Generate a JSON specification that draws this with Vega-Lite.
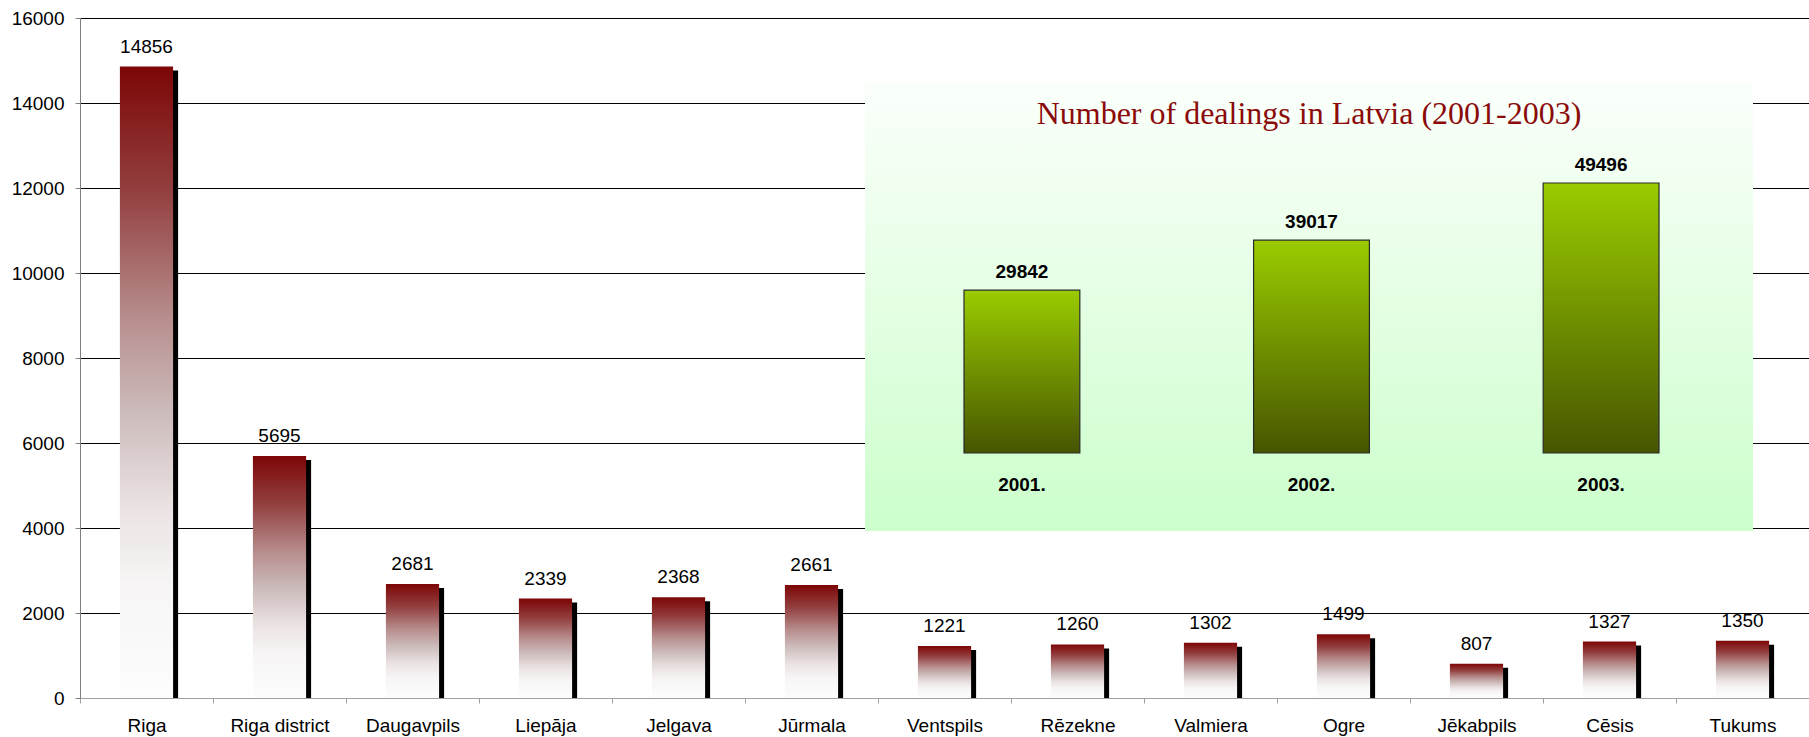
{
  "$schema": "https://vega.github.io/schema/vega-lite/v6.json",
  "width": 1729,
  "height": 680,
  "autosize": {"type": "none"},
  "padding": {"left": 80, "top": 18, "right": 0, "bottom": 39},
  "background": "white",
  "config": {
    "view": {"stroke": null},
    "font": "Liberation Sans",
    "axis": {"labelFont": "Liberation Sans", "labelColor": "#000000"}
  },
  "datasets": {
    "cities": [
      {"city": "Riga", "dealings": 14856},
      {"city": "Riga district", "dealings": 5695},
      {"city": "Daugavpils", "dealings": 2681},
      {"city": "Liepāja", "dealings": 2339},
      {"city": "Jelgava", "dealings": 2368},
      {"city": "Jūrmala", "dealings": 2661},
      {"city": "Ventspils", "dealings": 1221},
      {"city": "Rēzekne", "dealings": 1260},
      {"city": "Valmiera", "dealings": 1302},
      {"city": "Ogre", "dealings": 1499},
      {"city": "Jēkabpils", "dealings": 807},
      {"city": "Cēsis", "dealings": 1327},
      {"city": "Tukums", "dealings": 1350}
    ],
    "years": [
      {"year": "2001.", "total": 29842},
      {"year": "2002.", "total": 39017},
      {"year": "2003.", "total": 49496}
    ]
  },
  "layer": [
    {
      "data": {"name": "cities"},
      "encoding": {
        "x": {
          "field": "city",
          "type": "nominal",
          "sort": null,
          "scale": {"paddingInner": 0, "paddingOuter": 0},
          "axis": {
            "title": null,
            "labelAngle": 0,
            "labelFontSize": 19,
            "labelPadding": 13,
            "tickBand": "extent",
            "tickSize": 5,
            "tickColor": "#a0a0a0",
            "domainColor": "#a0a0a0",
            "grid": false
          }
        },
        "y": {
          "field": "dealings",
          "type": "quantitative",
          "scale": {"domain": [0, 16000], "nice": false},
          "axis": {
            "title": null,
            "values": [0, 2000, 4000, 6000, 8000, 10000, 12000, 14000, 16000],
            "format": "d",
            "labelFontSize": 19,
            "labelPadding": 11,
            "tickSize": 5,
            "tickColor": "#808080",
            "domainColor": "#808080",
            "grid": true,
            "gridColor": "#000000",
            "gridOpacity": 1,
            "gridWidth": 1
          }
        }
      },
      "layer": [
        {
          "mark": {"type": "bar", "color": "#000000", "width": {"band": 0.4}, "xOffset": 5, "yOffset": 4, "y2Offset": 0, "clip": true}
        },
        {
          "mark": {
            "type": "bar",
            "width": {"band": 0.4},
            "color": {
              "gradient": "linear",
              "x1": 0, "y1": 0, "x2": 0, "y2": 1,
              "stops": [
                {"offset": 0, "color": "#7d0606"},
                {"offset": 0.2, "color": "#934040"},
                {"offset": 0.4, "color": "#b88e8e"},
                {"offset": 0.55, "color": "#cdbcbc"},
                {"offset": 0.7, "color": "#ebe3e3"},
                {"offset": 0.82, "color": "#f7f5f5"},
                {"offset": 1, "color": "#fdfdfd"}
              ]
            }
          }
        },
        {
          "mark": {"type": "text", "dy": -20, "baseline": "middle", "fontSize": 19, "color": "#000000"},
          "encoding": {"text": {"field": "dealings", "type": "quantitative", "format": "d"}}
        }
      ]
    },
    {
      "data": {"values": [{}]},
      "layer": [
        {
          "mark": {
            "type": "rect",
            "color": {
              "gradient": "linear",
              "x1": 0, "y1": 0, "x2": 0, "y2": 1,
              "stops": [
                {"offset": 0, "color": "#fbfffb"},
                {"offset": 1, "color": "#ccffcc"}
              ]
            }
          },
          "encoding": {
            "x": {"datum": 0, "type": "quantitative", "scale": {"domain": [0, 1], "range": [785, 1673], "nice": false}, "axis": null},
            "x2": {"datum": 1},
            "y": {"datum": 0, "type": "quantitative", "scale": {"domain": [0, 1], "range": [513, 65], "nice": false}, "axis": null},
            "y2": {"datum": 1}
          }
        },
        {
          "mark": {"type": "text", "text": "Number of dealings in Latvia (2001-2003)", "font": "Liberation Serif", "fontSize": 32, "color": "#8b0a0a", "baseline": "middle", "align": "center"},
          "encoding": {
            "x": {"datum": 0.5, "type": "quantitative", "scale": {"domain": [0, 1], "range": [785, 1673], "nice": false}, "axis": null},
            "y": {"datum": 0.931, "type": "quantitative", "scale": {"domain": [0, 1], "range": [513, 65], "nice": false}, "axis": null}
          }
        }
      ],
      "resolve": {"scale": {"x": "shared", "y": "shared"}}
    },
    {
      "data": {"name": "years"},
      "encoding": {
        "x": {
          "field": "year",
          "type": "nominal",
          "sort": null,
          "scale": {"range": [884, 1579], "paddingInner": 0.6, "paddingOuter": 0},
          "axis": null
        }
      },
      "layer": [
        {
          "mark": {
            "type": "bar",
            "stroke": "#2a2a2a",
            "strokeWidth": 1.2,
            "color": {
              "gradient": "linear",
              "x1": 0, "y1": 0, "x2": 0, "y2": 1,
              "stops": [
                {"offset": 0, "color": "#9acc00"},
                {"offset": 1, "color": "#465500"}
              ]
            }
          },
          "encoding": {
            "y": {"field": "total", "type": "quantitative", "scale": {"range": [435, 165], "nice": false, "zero": true}, "axis": null}
          }
        },
        {
          "mark": {"type": "text", "dy": -18, "baseline": "middle", "fontSize": 19, "fontWeight": "bold", "color": "#000000"},
          "encoding": {
            "y": {"field": "total", "type": "quantitative", "scale": {"range": [435, 165], "nice": false, "zero": true}, "axis": null},
            "text": {"field": "total", "type": "quantitative", "format": "d"}
          }
        },
        {
          "mark": {"type": "text", "dy": 32, "baseline": "middle", "fontSize": 19, "fontWeight": "bold", "color": "#000000"},
          "encoding": {
            "y": {"datum": 0, "type": "quantitative", "scale": {"domain": [0, 49496], "range": [435, 165], "nice": false}, "axis": null},
            "text": {"field": "year", "type": "nominal"}
          }
        }
      ],
      "resolve": {"scale": {"y": "independent"}}
    }
  ],
  "resolve": {
    "scale": {"x": "independent", "y": "independent"},
    "axis": {"x": "independent", "y": "independent"}
  }
}
